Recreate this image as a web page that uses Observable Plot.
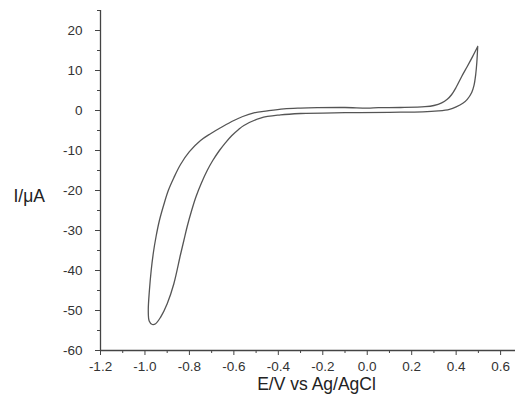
<!DOCTYPE html>
<html>
<head>
<meta charset="utf-8">
<script src="https://cdn.jsdelivr.net/npm/d3@7"></script>
<script src="https://cdn.jsdelivr.net/npm/@observablehq/plot@0.6"></script>
<style>
  html, body { margin: 0; padding: 0; background: #fff; }
</style>
</head>
<body>
<div id="chart"></div>
<script>
// Cyclic voltammogram, closed loop starting at the anodic tip
const potential = [
  0.497, 0.475, 0.450, 0.425, 0.400, 0.380, 0.360, 0.335, 0.300, 0.260, 0.150, 0.050, 0.000, -0.100, -0.225, -0.300, -0.375,
  -0.450, -0.510, -0.560, -0.600, -0.650, -0.705, -0.750, -0.800, -0.840, -0.870, -0.895, -0.915, -0.935,
  -0.950, -0.962, -0.972, -0.980, -0.985, -0.981, -0.967, -0.952, -0.930, -0.900, -0.870, -0.840, -0.825,
  -0.810, -0.790, -0.770, -0.745, -0.720, -0.695, -0.665, -0.640, -0.610, -0.580, -0.555, -0.480, -0.390, -0.300, -0.100, 0.100,
  0.250, 0.320, 0.370, 0.400, 0.430, 0.450, 0.470, 0.480, 0.488, 0.493, 0.497
];
const current = [
  16.0, 13.6, 11.0, 8.5, 5.8, 4.0, 2.8, 1.9, 1.25, 0.95, 0.75, 0.7, 0.6, 0.75, 0.7, 0.6, 0.4,
  -0.1, -0.6, -1.5, -2.5, -4.0, -5.8, -7.5, -10.3, -13.5, -16.8, -20.0, -23.5, -27.5,
  -31.5, -35.5, -40.0, -45.0, -50.0, -52.6, -53.5, -53.3, -51.7, -48.3, -43.3, -36.0, -32.5,
  -29.0, -25.0, -21.5, -18.0, -15.0, -12.5, -10.0, -8.2, -6.3, -4.8, -3.75, -1.9, -1.1, -0.75, -0.55, -0.45,
  -0.35, -0.1, 0.3, 0.9, 1.8, 2.8, 4.5, 6.2, 9.0, 12.0, 16.0
];
const xTicks = [-1.2, -1.0, -0.8, -0.6, -0.4, -0.2, 0.0, 0.2, 0.4, 0.6];
const xMinorTicks = [-1.1, -0.9, -0.7, -0.5, -0.3, -0.1, 0.1, 0.3, 0.5];
const yTicks = [-60, -50, -40, -30, -20, -10, 0, 10, 20];
const yMinorTicks = [-55, -45, -35, -25, -15, -5, 5, 15, 25];
const xLabel = "E/V vs Ag/AgCl";
const yLabel = "I/μA";

const data = potential.map((e, i) => ({E: e, I: current[i]}));
const axisColor = "#444";

const chart = Plot.plot({
  width: 515,
  height: 400,
  marginLeft: 100,
  marginRight: 0,
  marginTop: 10,
  marginBottom: 50,
  x: {domain: [-1.2, 0.667]},
  y: {domain: [-60, 25]},
  style: {fontFamily: "'Liberation Sans', Arial, sans-serif", fontSize: "13.5px", color: "#333", background: "#fff"},
  marks: [
    Plot.axisX({ticks: xTicks, tickSize: 5, tickPadding: 6, tickFormat: d => d.toFixed(1), label: null, stroke: axisColor}),
    Plot.axisX({ticks: xMinorTicks, tickSize: 3, tickFormat: () => "", label: null, stroke: axisColor}),
    Plot.axisY({ticks: yTicks, tickSize: 5, tickPadding: 13, tickFormat: d => String(d), label: null, stroke: axisColor}),
    Plot.axisY({ticks: yMinorTicks, tickSize: 3, tickFormat: () => "", label: null, stroke: axisColor}),
    Plot.ruleY([-60], {stroke: axisColor, strokeWidth: 1.3}),
    Plot.ruleX([-1.2], {stroke: axisColor, strokeWidth: 1.3}),
    Plot.line(data, {x: "E", y: "I", curve: "catmull-rom", stroke: "#555", strokeWidth: 1.3}),
    Plot.text([yLabel], {frameAnchor: "left", textAnchor: "start", dx: -87, dy: 16, fontSize: 17.5, fill: "#222"}),
    Plot.text([xLabel], {frameAnchor: "bottom", textAnchor: "middle", dx: 8.5, dy: 39, fontSize: 17.5, fill: "#222"})
  ]
});
document.getElementById("chart").appendChild(chart);
</script>
</body>
</html>
